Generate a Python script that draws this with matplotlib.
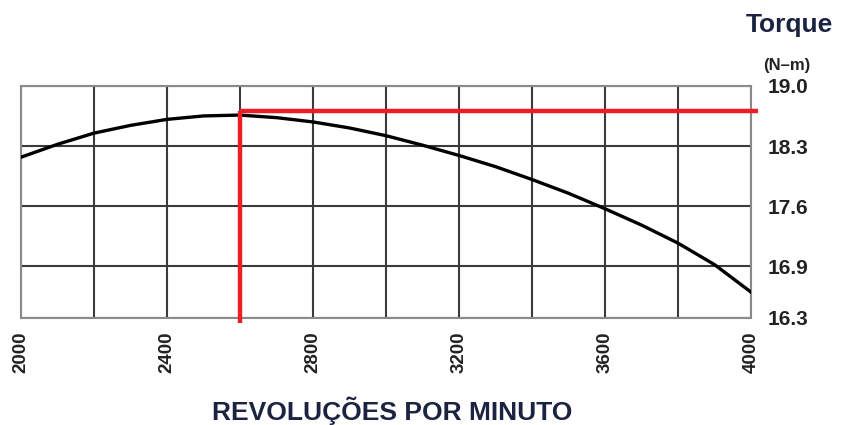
import matplotlib.pyplot as plt

# torque curve
rpm = [2000, 2100, 2200, 2300, 2400, 2500, 2600, 2700, 2800, 2900, 3000,
       3100, 3200, 3300, 3400, 3500, 3600, 3700, 3800, 3900, 4000]
torque = [18.17, 18.32, 18.45, 18.54, 18.61, 18.65, 18.66, 18.63, 18.58, 18.51, 18.42,
          18.31, 18.19, 18.06, 17.91, 17.75, 17.57, 17.38, 17.17, 16.92, 16.60]

y_ticks = [16.3, 16.9, 17.6, 18.3, 19.0]
y_labels = ['16.3', '16.9', '17.6', '18.3', '19.0']
x_grid = list(range(2000, 4001, 200))
x_ticks = [2000, 2400, 2800, 3200, 3600, 4000]

# red marker lines
mark_rpm = 2600
mark_torque = 18.71

plt.rcParams['font.family'] = ['Liberation Sans', 'DejaVu Sans']

fig = plt.figure(figsize=(8.41, 4.25), dpi=100)
ax = fig.add_axes([0.025, 0.252, 0.868, 0.546])

ax.set_xlim(2000, 4000)
ax.set_ylim(16.3, 19.0)

# grid
for x in x_grid:
    ax.axvline(x, color='#3a3a3a', lw=1.5, zorder=1)
for y in y_ticks:
    ax.axhline(y, color='#3a3a3a', lw=1.5, zorder=1)
for s in ax.spines.values():
    s.set_color('#8a8a8a')
    s.set_linewidth(1.5)

ax.plot(rpm, torque, color='black', lw=2.4, solid_joinstyle='round', zorder=3)

ax.plot([mark_rpm, mark_rpm], [16.24, mark_torque], color='#ee1c25', lw=3.2,
        solid_capstyle='butt', clip_on=False, zorder=4)
ax.plot([mark_rpm, 4020], [mark_torque, mark_torque], color='#ee1c25', lw=3.2,
        solid_capstyle='butt', clip_on=False, zorder=4)

ax.set_xticks(x_ticks)
ax.set_xticklabels([str(x) for x in x_ticks], rotation=90, fontsize=13.5,
                   fontweight='bold', color='#222222')
ax.yaxis.tick_right()
ax.set_yticks(y_ticks)
ax.set_yticklabels(y_labels, fontsize=15, fontweight='bold', color='#222222')
ax.tick_params(length=0, pad=10)
ax.tick_params(axis='y', pad=12)

fig.text(0.466, 0.012, 'REVOLUÇÕES POR MINUTO', fontsize=19, fontweight='bold',
         color='#1c2340', ha='center', va='baseline')

fig.text(0.939, 0.941, 'Torque', fontsize=19, fontweight='bold',
         color='#1c2340', ha='center', va='center')
fig.text(0.935, 0.847, '(N–m)', fontsize=12, fontweight='bold',
         color='#222222', ha='center', va='center')

fig.savefig('out.png', dpi=100)
